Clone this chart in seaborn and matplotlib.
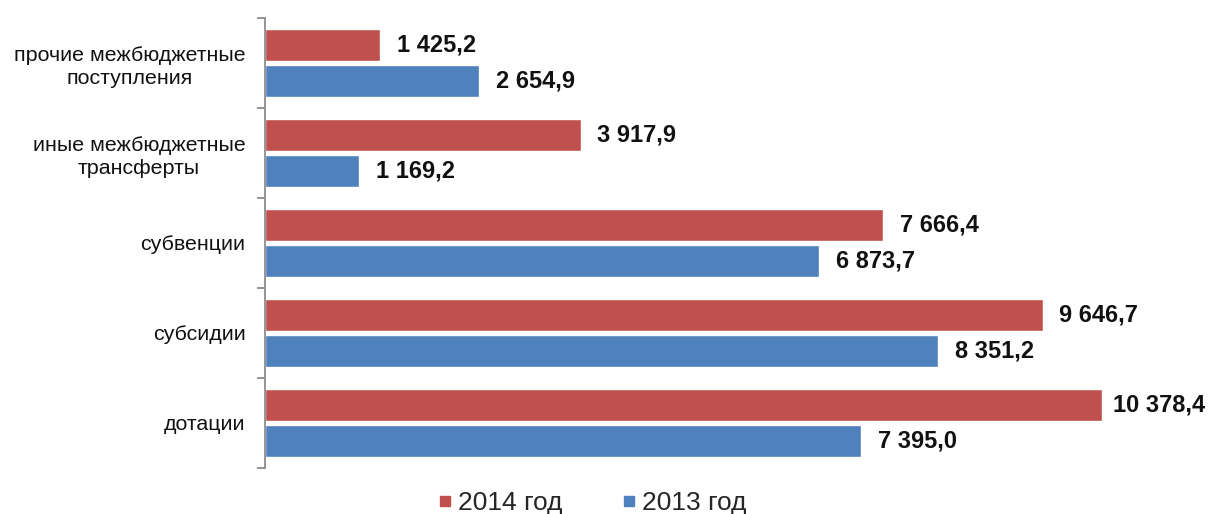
import matplotlib
matplotlib.use("Agg")
import matplotlib.pyplot as plt
from matplotlib.lines import Line2D
import seaborn as sns
import pandas as pd

categories = ["прочие межбюджетные\nпоступления", "иные межбюджетные\nтрансферты",
              "субвенции", "субсидии", "дотации"]
series_names = ["2014 год", "2013 год"]
values_2014 = [1425.2, 3917.9, 7666.4, 9646.7, 10378.4]
values_2013 = [2654.9, 1169.2, 6873.7, 8351.2, 7395.0]
colors = ["#C0504D", "#4F81BD"]

rows = []
for c, v in zip(categories, values_2014):
    rows.append({"cat": c, "year": series_names[0], "val": v})
for c, v in zip(categories, values_2013):
    rows.append({"cat": c, "year": series_names[1], "val": v})
df = pd.DataFrame(rows)

sns.set_style("white")
plt.rcParams["font.family"] = ["Liberation Sans", "DejaVu Sans"]

W, H = 1210, 514
fig = plt.figure(figsize=(W / 100, H / 100), dpi=100)
ax = fig.add_axes([265 / W, 1 - 468 / H, 927 / W, 450 / H])

sns.barplot(data=df, y="cat", x="val", hue="year", hue_order=series_names,
            order=categories, palette=colors, orient="h", width=0.8, gap=0.1,
            saturation=1, legend=False, ax=ax)

def fmt(v):
    s = f"{v:,.1f}"
    return s.replace(",", " ").replace(".", ",")

label_texts = []
for cont, vals in zip(ax.containers, [values_2014, values_2013]):
    label_texts += ax.bar_label(cont, labels=[fmt(v) for v in vals], padding=12,
                                fontsize=17, fontweight="bold", color="#111111")

ax.set_xlim(0, 11500)
ax.set_ylim(len(categories) - 0.5, -0.5)
ax.set_xlabel("")
ax.set_ylabel("")
ax.set_xticks([])
for s in ["top", "right", "bottom"]:
    ax.spines[s].set_visible(False)
ax.spines["left"].set_color("#8C8C8C")
ax.spines["left"].set_linewidth(1.3)

ax.set_yticks(range(len(categories)))
ax.set_yticks([i - 0.5 for i in range(len(categories) + 1)], minor=True)
ax.tick_params(axis="y", which="major", left=True, length=0, pad=14, labelsize=15.4,
               labelcolor="#111111")
ax.tick_params(axis="y", which="minor", left=True, length=6, width=1.3,
               color="#8C8C8C", direction="out")
for t in ax.get_yticklabels():
    t.set_multialignment("center")
    t.set_linespacing(1.25)

# keep labels inside the figure (like Excel does)
fig.canvas.draw()
renderer = fig.canvas.get_renderer()
for t in label_texts:
    bb = t.get_window_extent(renderer)
    overflow = bb.x1 - (W - 5)
    if overflow > 0:
        x, y = t.xyann
        t.xyann = (x - overflow * 72 / 100, y)

handles = [Line2D([], [], marker="s", linestyle="none", markersize=7.5,
                  markerfacecolor=c, markeredgecolor=c) for c in colors]
fig.legend(handles, series_names, loc="center", bbox_to_anchor=(591 / W, 1 - 503 / H),
           ncol=2, frameon=False, fontsize=19, handletextpad=0.15, columnspacing=2.18,
           handlelength=0.7, borderpad=0)

fig.savefig("out.png", dpi=100)
